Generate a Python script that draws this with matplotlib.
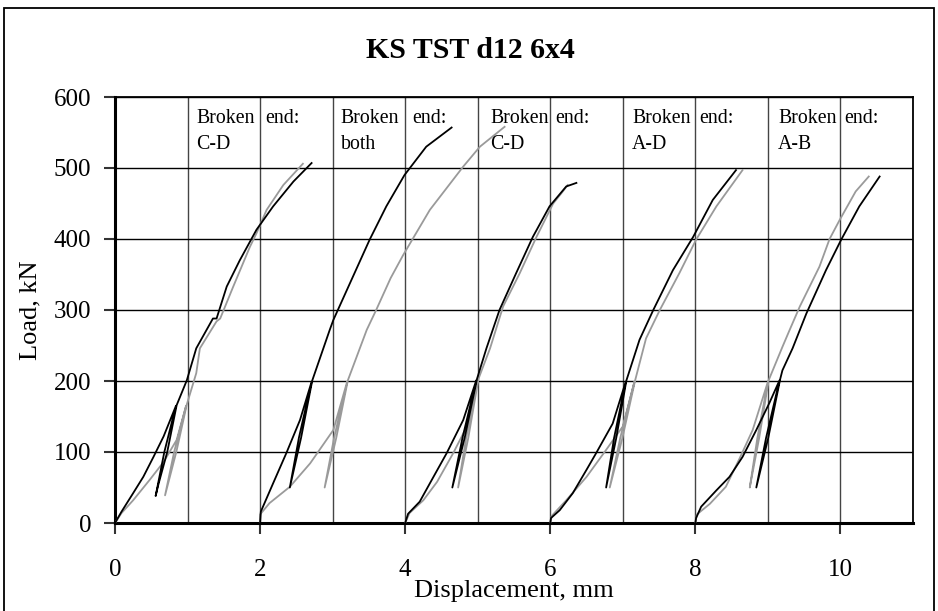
import matplotlib
matplotlib.use("Agg")
import matplotlib.pyplot as plt
from matplotlib.patches import Rectangle
from matplotlib.ticker import MultipleLocator

plt.rcParams["font.family"] = ["Liberation Serif", "DejaVu Serif"]

# --- data (displacement mm, load kN) ---
# test 1 (broken end C-D)
blk1_x = [0, 0.09, 0.25, 0.39, 0.53, 0.67, 0.84, 0.68, 0.56, 0.60, 0.72, 0.85,
          0.99, 1.12, 1.35, 1.40, 1.54, 1.72, 1.95, 2.18, 2.46, 2.71]
blk1_y = [0, 16, 42, 65, 93, 122, 165, 100, 38, 55, 100, 166,
          201, 246, 288, 288, 333, 370, 413, 446, 481, 507]
gry1_x = [0, 0.09, 0.25, 0.48, 0.67, 0.85, 0.98, 0.815, 0.69, 0.845, 0.99,
          1.12, 1.17, 1.40, 1.45, 1.63, 1.86, 1.95, 2.09, 2.32, 2.59]
gry1_y = [0, 14, 32, 61, 86, 117, 165, 100, 39, 100, 167,
          211, 246, 284, 288, 333, 389, 408, 441, 476, 506]

# test 2 (both)
blk2_x = [2.0, 2.01, 2.18, 2.36, 2.55, 2.71, 2.535, 2.41, 2.565, 2.72,
          2.96, 3.01, 3.24, 3.51, 3.74, 3.99, 4.29, 4.64]
blk2_y = [0, 16, 56, 98, 145, 199, 120, 50, 120, 201,
          272, 286, 338, 399, 446, 490, 530, 557]
gry2_x = [2.0, 2.0, 2.13, 2.41, 2.69, 3.01, 3.2, 3.02, 2.89, 3.05, 3.21,
          3.47, 3.6, 3.80, 3.97, 4.34, 4.8, 5.03, 5.37]
gry2_y = [0, 12, 28, 51, 84, 131, 199, 120, 50, 120, 201,
          272, 300, 345, 377, 441, 502, 530, 558]

# test 3 (C-D)
blk3_x = [4.0, 4.04, 4.2, 4.39, 4.57, 4.8, 4.98, 4.79, 4.65, 4.82, 4.99,
          5.12, 5.30, 5.53, 5.76, 5.99, 6.22, 6.36]
blk3_y = [0, 13, 30, 65, 98, 145, 201, 120, 50, 120, 203,
          246, 300, 352, 403, 446, 474, 479]
gry3_x = [4.0, 4.06, 4.25, 4.44, 4.66, 4.87, 5.0, 4.84, 4.73, 4.87, 5.01,
          5.17, 5.35, 5.58, 5.81, 6.04, 6.15, 6.24]
gry3_y = [0, 14, 32, 58, 98, 140, 201, 120, 50, 120, 203,
          246, 305, 352, 403, 450, 464, 476]

# test 4 (A-D)
blk4_x = [6.0, 6.01, 6.13, 6.31, 6.5, 6.63, 6.86, 7.04, 6.88, 6.77, 6.91, 7.05,
          7.23, 7.42, 7.69, 7.97, 8.24, 8.56]
blk4_y = [0, 7, 18, 42, 75, 98, 140, 199, 120, 50, 120, 201,
          258, 300, 356, 403, 455, 497]
gry4_x = [6.0, 6.02, 6.22, 6.5, 6.77, 7.0, 7.16, 6.965, 6.82, 6.995, 7.17,
          7.32, 7.51, 7.78, 8.01, 8.29, 8.65]
gry4_y = [0, 10, 32, 65, 103, 136, 199, 120, 50, 120, 201,
          260, 300, 352, 399, 446, 497]

# test 5 (A-B)
blk5_x = [8.0, 8.01, 8.08, 8.29, 8.47, 8.65, 8.84, 9.02, 9.16, 8.975, 8.84, 9.005, 9.17,
          9.2, 9.34, 9.53, 9.8, 10.01, 10.26, 10.54]
blk5_y = [0, 7, 23, 46, 65, 93, 131, 169, 201, 120, 50, 120, 203,
          215, 246, 295, 356, 399, 446, 488]
gry5_x = [8.0, 8.02, 8.2, 8.42, 8.61, 8.79, 9.0, 8.855, 8.75, 8.88, 9.01,
          9.2, 9.3, 9.44, 9.71, 9.85, 9.99, 10.21, 10.39]
gry5_y = [0, 12, 27, 51, 91, 131, 199, 120, 50, 120, 201,
          248, 272, 305, 361, 400, 427, 467, 488]

broken_ends = ["C-D", "both", "C-D", "A-D", "A-B"]
broken_pos = [1.125, 3.11, 5.17, 7.13, 9.14]
end_pos = [2.07, 4.10, 6.07, 8.05, 10.05]

tests = [(blk1_x, blk1_y, gry1_x, gry1_y),
         (blk2_x, blk2_y, gry2_x, gry2_y),
         (blk3_x, blk3_y, gry3_x, gry3_y),
         (blk4_x, blk4_y, gry4_x, gry4_y),
         (blk5_x, blk5_y, gry5_x, gry5_y)]

W, H = 938, 611
fig = plt.figure(figsize=(W / 100, H / 100), dpi=100)
ax = fig.add_axes([115 / W, 1 - 523 / H, (913 - 115) / W, (523 - 97) / H])

for bx, by, gx, gy in tests:
    ax.plot(gx, gy, color="#9a9a9a", lw=1.3, zorder=3)
    ax.plot(bx, by, color="black", lw=1.3, zorder=4)

for lab, xb, xe in zip(broken_ends, broken_pos, end_pos):
    ax.text(xb, 570, "Broken", fontsize=14.3, va="center", ha="left", zorder=5)
    ax.text(xe, 570, "end:", fontsize=14.3, va="center", ha="left", zorder=5)
    ax.text(xb, 533, lab, fontsize=14.3, va="center", ha="left", zorder=5)

ax.set_xlim(0, 11)
ax.set_ylim(0, 600)
ax.set_xticks(range(0, 11, 2))
ax.xaxis.set_minor_locator(MultipleLocator(1))
ax.set_yticks(range(0, 601, 100))
ax.grid(axis="y", color="black", lw=1, zorder=1)
ax.grid(axis="x", which="both", color="#444444", lw=1, zorder=1)
ax.set_axisbelow(True)
ax.tick_params(axis="both", which="major", direction="out", length=8, width=1.5,
               labelsize=18, color="#333333")
ax.tick_params(axis="x", which="minor", length=0)
ax.tick_params(axis="x", pad=18)
ax.tick_params(axis="y", pad=9)
for s in ["left", "bottom"]:
    ax.spines[s].set_linewidth(2.2)
for s in ["top", "right"]:
    ax.spines[s].set_linewidth(1.3)

fig.text(470 / W, 1 - 50 / H, "KS TST d12 6x4", fontsize=21.5, fontweight="bold",
         ha="center", va="center")
fig.text(30 / W, 1 - 310 / H, "Load, kN", fontsize=19, rotation=90,
         ha="center", va="center")
fig.text(514 / W, 1 - 591 / H, "Displacement, mm", fontsize=19,
         ha="center", va="center")

fig.patches.append(Rectangle((4 / W, -0.05), (934 - 4) / W, (H - 8) / H + 0.05,
                             transform=fig.transFigure, fill=False, lw=1.3,
                             ec="black"))

fig.savefig("out.png", dpi=100)
